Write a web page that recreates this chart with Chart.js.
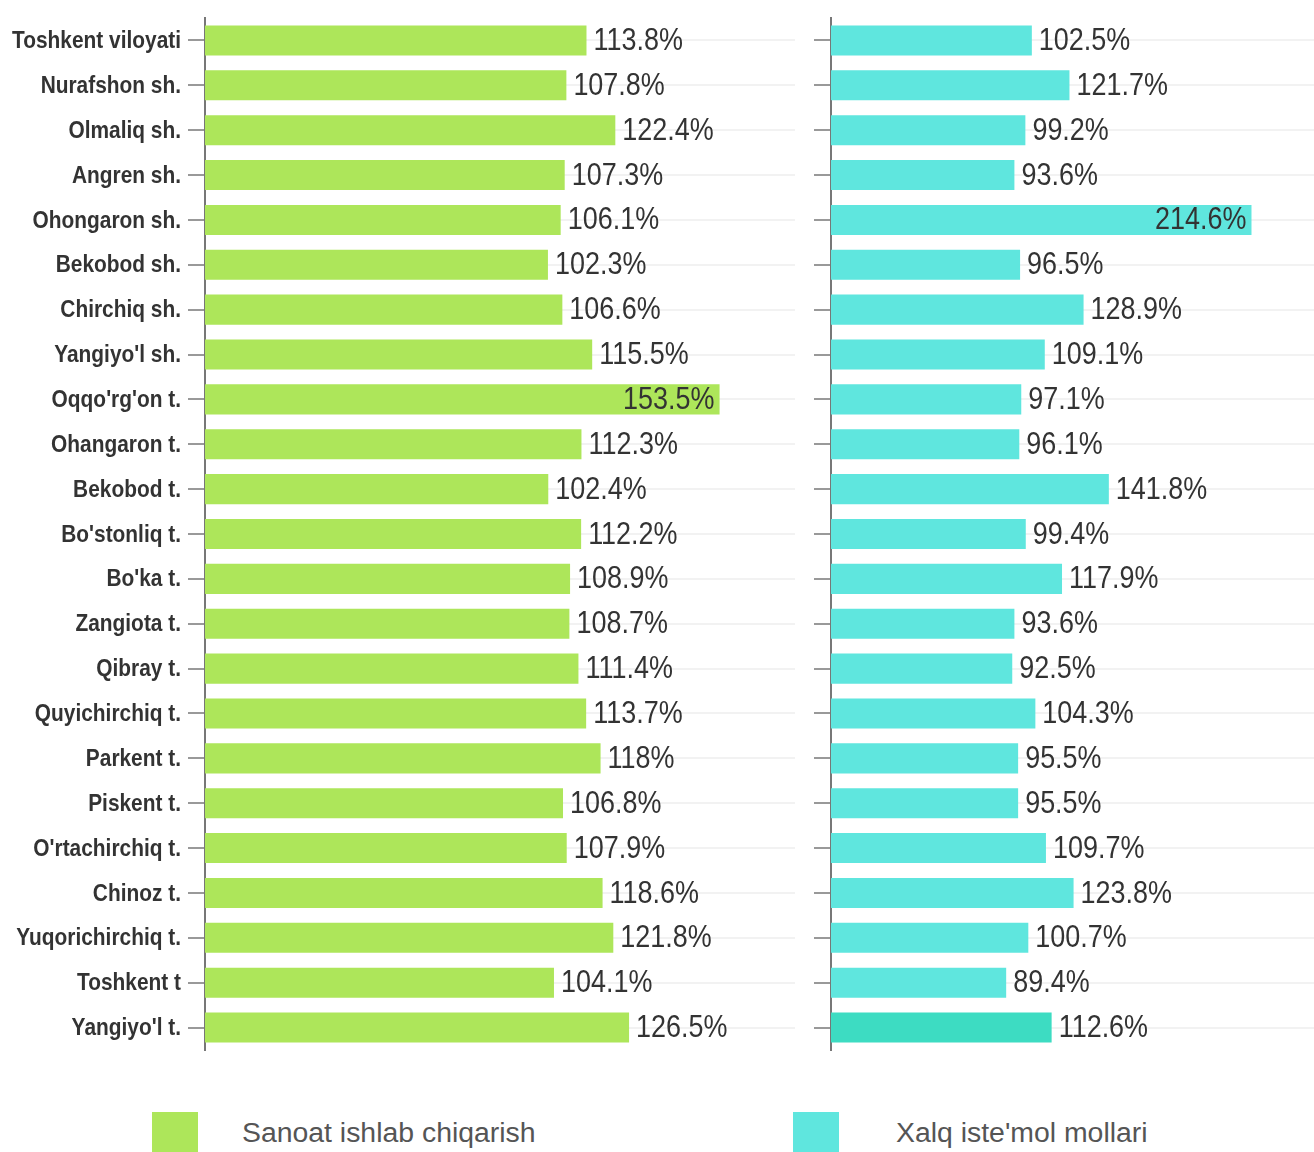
<!DOCTYPE html>
<html>
<head>
<meta charset="utf-8">
<script src="https://cdn.jsdelivr.net/npm/chart.js@4.4.1/dist/chart.umd.min.js"></script>
<style>
  html, body { margin: 0; padding: 0; background: #fff; }
  body { width: 1314px; height: 1152px; position: relative; overflow: hidden; }
  .box { position: absolute; }
  #leftBox { left: 0; top: 0; width: 795px; height: 1060px; }
  #rightBox { left: 800px; top: 0; width: 514px; height: 1060px; }
  .swatch { position: absolute; top: 1112px; width: 46px; height: 46px; }
  .legText { position: absolute; top: 1118px; font: 28.4px/29px 'Liberation Sans', Arial, sans-serif; color: #555; white-space: nowrap; }
</style>
</head>
<body>
<div class="box" id="leftBox"><canvas id="left"></canvas></div>
<div class="box" id="rightBox"><canvas id="right"></canvas></div>
<div class="swatch" style="left:152px;background:#ade65a"></div>
<div class="legText" id="leg1" style="left:242px"></div>
<div class="swatch" style="left:793px;background:#5fe6de"></div>
<div class="legText" id="leg2" style="left:896px"></div>

<script>
const districts = [
  'Toshkent viloyati', 'Nurafshon sh.', 'Olmaliq sh.', 'Angren sh.', 'Ohongaron sh.',
  'Bekobod sh.', 'Chirchiq sh.', "Yangiyo'l sh.", "Oqqo'rg'on t.", 'Ohangaron t.',
  'Bekobod t.', "Bo'stonliq t.", "Bo'ka t.", 'Zangiota t.', 'Qibray t.',
  'Quyichirchiq t.', 'Parkent t.', 'Piskent t.', "O'rtachirchiq t.", 'Chinoz t.',
  'Yuqorichirchiq t.', 'Toshkent t', "Yangiyo'l t."
];
const industry = [
  113.8, 107.8, 122.4, 107.3, 106.1, 102.3, 106.6, 115.5, 153.5, 112.3, 102.4, 112.2,
  108.9, 108.7, 111.4, 113.7, 118, 106.8, 107.9, 118.6, 121.8, 104.1, 126.5
];
const consumer = [
  102.5, 121.7, 99.2, 93.6, 214.6, 96.5, 128.9, 109.1, 97.1, 96.1, 141.8, 99.4,
  117.9, 93.6, 92.5, 104.3, 95.5, 95.5, 109.7, 123.8, 100.7, 89.4, 112.6
];
const seriesNames = ['Sanoat ishlab chiqarish', "Xalq iste'mol mollari"];

document.getElementById('leg1').textContent = seriesNames[0];
document.getElementById('leg2').textContent = seriesNames[1];

const GREEN = '#ade65a';
const TEAL = '#5fe6de';
const TEAL_DARK = '#3ddcc2';
const FONT = "'Liberation Sans', Arial, sans-serif";

// no narrow font installed, so squeeze the text horizontally
function narrowText(ctx, txt, x, y, align, squeeze) {
  ctx.save();
  ctx.translate(x, y);
  ctx.scale(squeeze, 1);
  ctx.textAlign = align;
  ctx.fillText(txt, 0, 0);
  ctx.restore();
}

const categoryLabels = {
  id: 'categoryLabels',
  afterDraw(chart, args, opts) {
    if (!opts.show) return;
    const { ctx } = chart;
    const scale = chart.scales.y;
    ctx.save();
    ctx.font = `bold 24px ${FONT}`;
    ctx.fillStyle = '#333';
    ctx.textBaseline = 'middle';
    scale.ticks.forEach((t, i) => {
      const y = scale.getPixelForTick(i);
      narrowText(ctx, scale.getLabelForValue(t.value), scale.right - 24, y + 1, 'right', 0.87);
    });
    ctx.restore();
  },
};

// value labels: outside the bar, except the largest one which sits inside
const valueLabels = {
  id: 'valueLabels',
  afterDatasetsDraw(chart) {
    const { ctx } = chart;
    const data = chart.data.datasets[0].data;
    const top = Math.max(...data);
    const meta = chart.getDatasetMeta(0);
    ctx.save();
    ctx.font = `31px ${FONT}`;
    ctx.fillStyle = '#333';
    ctx.textBaseline = 'middle';
    meta.data.forEach((bar, i) => {
      const txt = `${data[i]}%`;
      if (data[i] === top) {
        narrowText(ctx, txt, bar.x - 5, bar.y + 1, 'right', 0.87);
      } else {
        narrowText(ctx, txt, bar.x + 7, bar.y + 1, 'left', 0.87);
      }
    });
    ctx.restore();
  },
};

function makeChart(id, values, colors, max, axisWidth, showLabels) {
  return new Chart(document.getElementById(id), {
    type: 'bar',
    data: {
      labels: districts,
      datasets: [{
        data: values,
        backgroundColor: colors,
        borderWidth: 0,
        barPercentage: 0.67,
        categoryPercentage: 1,
      }],
    },
    options: {
      indexAxis: 'y',
      responsive: true,
      maintainAspectRatio: false,
      animation: false,
      layout: { padding: { top: 18, bottom: 10, left: 0, right: 0 } },
      plugins: {
        legend: { display: false },
        tooltip: { enabled: false },
        categoryLabels: { show: showLabels },
      },
      scales: {
        x: { display: false, min: 0, max },
        y: {
          afterFit(scale) {
            scale.width = axisWidth;
            scale.paddingTop = 0;
            scale.paddingBottom = 0;
          },
          grid: {
            offset: false,
            color: '#f2f2f2',
            lineWidth: 2,
            tickLength: 17,
            tickColor: '#999',
            tickWidth: 2,
          },
          border: { color: '#777', width: 2 },
          ticks: { display: false },
        },
      },
    },
    plugins: [valueLabels, categoryLabels],
  });
}

makeChart('left', industry, GREEN, 176, 205, true);
makeChart('right', consumer, consumer.map((v, i) => (i === consumer.length - 1 ? TEAL_DARK : TEAL)), 246.5, 31, false);
</script>
</body>
</html>
